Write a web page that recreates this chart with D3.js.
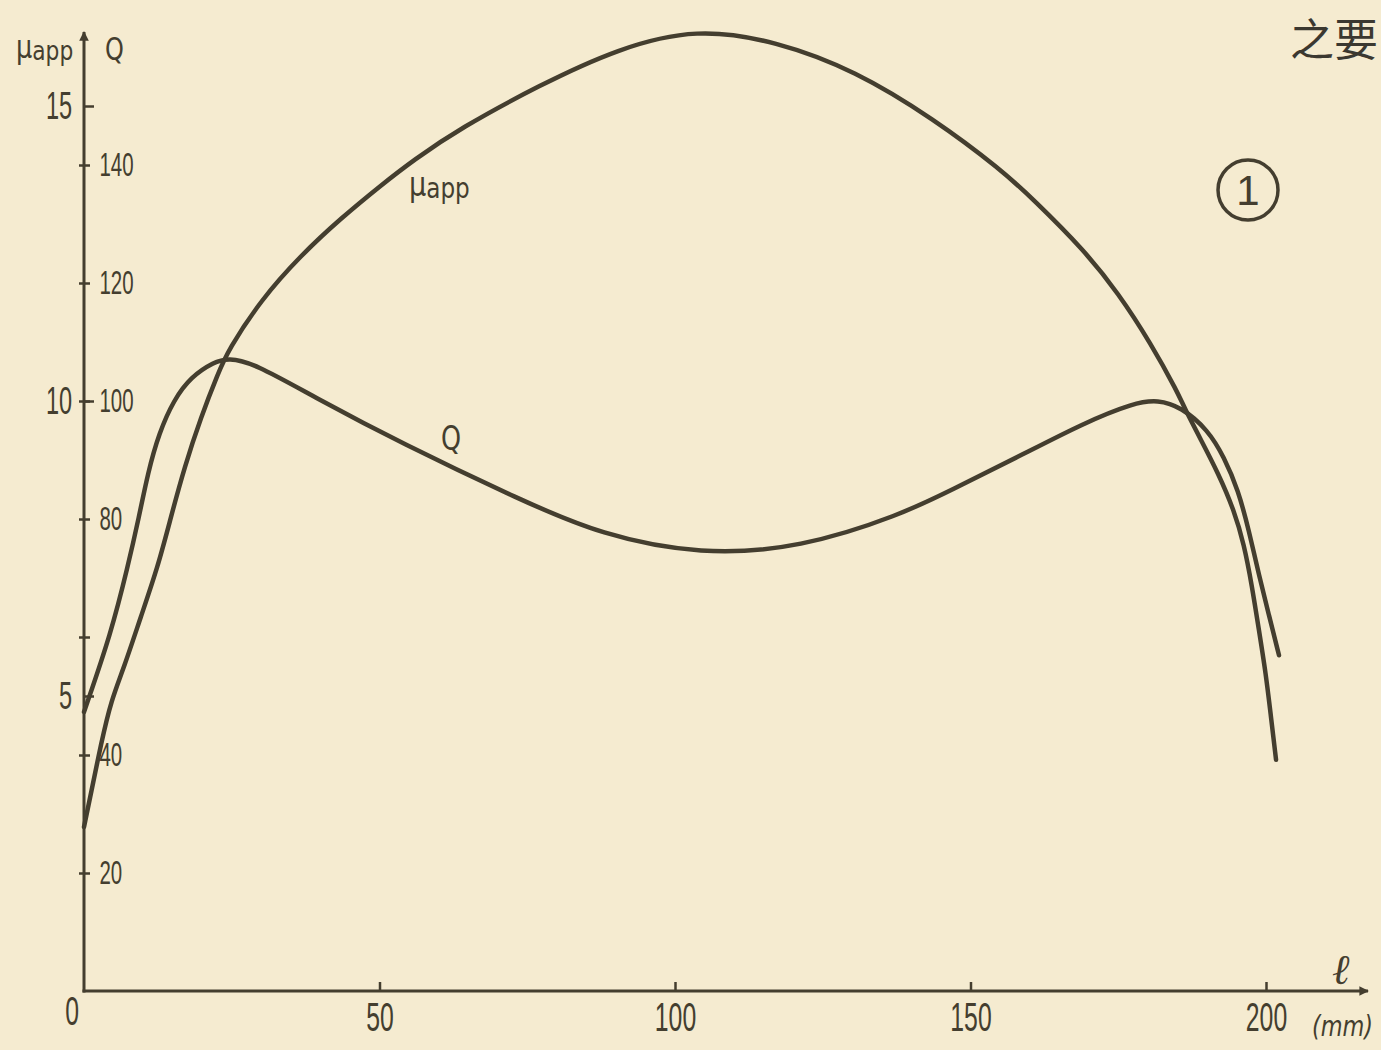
<!DOCTYPE html>
<html>
<head>
<meta charset="utf-8">
<script src="https://cdn.jsdelivr.net/npm/d3@7"></script>
<style>
  html, body { margin: 0; padding: 0; background: #f5ebd0; }
  svg { display: block; }
</style>
</head>
<body>
<svg id="chart" width="1381" height="1050"></svg>
<script>
// Apparent viscosity (μapp) and Q along the length ℓ (mm)
const lengthMu = [0, 1.2, 2.9, 4.6, 6.8, 9.6, 12.5, 14.7, 17.0, 19.8, 22.7, 24.4, 29.9, 36.7, 43.5, 50.3, 55.7, 63.6, 77.0, 90.4, 103.7, 117.1, 130.5, 143.8, 155.2, 160.7, 169.2, 175.0, 180.5, 185.1, 186.1, 189.0, 191.9, 194.6, 196.3, 197.6, 198.8, 200.0, 200.8, 201.7];
const muApp = [2.78, 3.36, 4.20, 4.93, 5.49, 6.34, 7.19, 8.03, 8.88, 9.73, 10.47, 10.86, 11.71, 12.47, 13.10, 13.66, 14.08, 14.62, 15.35, 15.98, 16.32, 16.10, 15.60, 14.78, 13.92, 13.41, 12.56, 11.83, 10.98, 10.14, 9.90, 9.34, 8.78, 8.15, 7.56, 6.88, 6.12, 5.36, 4.68, 3.92];

const lengthQ = [0, 4.6, 7.4, 9.3, 10.8, 12.7, 15.2, 18.1, 22.0, 24.4, 28.8, 38.9, 53.6, 73.9, 87.5, 104.4, 121.3, 138.2, 146.7, 158.0, 169.2, 177.7, 181.7, 185.6, 190.2, 192.9, 195.3, 197.1, 198.8, 200.5, 202.2];
const flowQ = [47.3, 60.7, 71.9, 80.3, 87.8, 94.6, 100.2, 104.1, 106.6, 107.3, 106.4, 100.7, 92.9, 83.2, 77.3, 73.9, 75.1, 80.7, 84.9, 90.5, 96.3, 99.7, 100.2, 99.0, 95.1, 90.5, 84.9, 78.1, 70.5, 63.7, 56.9];

const xTicks = [0, 50, 100, 150, 200];
const xTickLabels = ["0", "50", "100", "150", "200"];
const muTicks = [5, 10, 15];
const muTickLabels = ["5", "10", "15"];
const qTicks = [20, 40, 60, 80, 100, 120, 140];
const qTickLabels = ["20", "40", "", "80", "100", "120", "140"];

const W = 1381, H = 1050;
const ink = "#443e2f";
const numFont = "'Liberation Sans', 'DejaVu Sans', sans-serif";
const svg = d3.select("#chart");

svg.append("rect").attr("width", W).attr("height", H).attr("fill", "#f5ebd0");

const x = d3.scaleLinear().domain([0, 200]).range([84, 1266]);
const yMu = d3.scaleLinear().domain([0, 16]).range([991, 47]);
const yQ = d3.scaleLinear().domain([0, 160]).range([991, 47]);
const x0 = x(0), y0 = yMu(0);

// arrow heads for the two axes
const defs = svg.append("defs");
defs.append("marker")
  .attr("id", "arrow")
  .attr("viewBox", "0 0 10 10")
  .attr("refX", 9).attr("refY", 5)
  .attr("markerWidth", 7).attr("markerHeight", 3.2)
  .attr("markerUnits", "strokeWidth")
  .attr("orient", "auto")
  .append("path").attr("d", "M0,0L10,5L0,10Z").attr("fill", ink);

// condensed numerals
function narrow(sel, sx) {
  sel.attr("transform", `scale(${sx},1)`);
}

// x axis
const gx = svg.append("g").attr("transform", `translate(0,${y0})`)
  .call(d3.axisBottom(x).tickValues(xTicks)
    .tickFormat((d, i) => xTickLabels[i])
    .tickSizeInner(-9).tickSizeOuter(0).tickPadding(12));
gx.select(".domain").remove();
gx.selectAll(".tick line").attr("stroke", ink).attr("stroke-width", 2.5)
  .filter(d => d === 0).remove();
gx.selectAll(".tick text")
  .attr("fill", ink).attr("font-family", numFont).attr("font-size", 40)
  .call(narrow, 0.62);
gx.selectAll(".tick").filter(d => d === 0).select("text")
  .attr("x", -20).attr("y", 6);

// left axis: μapp
const gMu = svg.append("g").attr("transform", `translate(${x0},0)`)
  .call(d3.axisLeft(yMu).tickValues(muTicks)
    .tickFormat((d, i) => muTickLabels[i])
    .tickSizeInner(-10).tickSizeOuter(0).tickPadding(19));
gMu.select(".domain").remove();
gMu.selectAll(".tick line").attr("stroke", ink).attr("stroke-width", 2.5);
gMu.selectAll(".tick text")
  .attr("fill", ink).attr("font-family", numFont).attr("font-size", 38)
  .call(narrow, 0.62);

// right-hand numbering on the same axis: Q
const gQ = svg.append("g").attr("transform", `translate(${x0},0)`)
  .call(d3.axisRight(yQ).tickValues(qTicks)
    .tickFormat((d, i) => qTickLabels[i])
    .tickSizeInner(6).tickSizeOuter(0).tickPadding(19));
gQ.select(".domain").remove();
gQ.selectAll(".tick line").attr("x1", -5).attr("stroke", ink).attr("stroke-width", 2.5);
gQ.selectAll(".tick text")
  .attr("fill", ink).attr("font-family", numFont).attr("font-size", 33)
  .call(narrow, 0.62);

// axis lines with arrows
svg.append("line")
  .attr("x1", x0).attr("y1", y0 + 1.5).attr("x2", x0).attr("y2", 32)
  .attr("stroke", ink).attr("stroke-width", 3)
  .attr("marker-end", "url(#arrow)");
svg.append("line")
  .attr("x1", x0 - 1.5).attr("y1", y0).attr("x2", 1368).attr("y2", y0)
  .attr("stroke", ink).attr("stroke-width", 3)
  .attr("marker-end", "url(#arrow)");

// curves
const lineMu = d3.line().x(d => x(d[0])).y(d => yMu(d[1])).curve(d3.curveBasis);
const lineQ = d3.line().x(d => x(d[0])).y(d => yQ(d[1])).curve(d3.curveBasis);

svg.append("path").datum(d3.zip(lengthMu, muApp))
  .attr("d", lineMu).attr("fill", "none")
  .attr("stroke", ink).attr("stroke-width", 4.5)
  .attr("stroke-linecap", "round").attr("stroke-linejoin", "round");
svg.append("path").datum(d3.zip(lengthQ, flowQ))
  .attr("d", lineQ).attr("fill", "none")
  .attr("stroke", ink).attr("stroke-width", 4.5)
  .attr("stroke-linecap", "round").attr("stroke-linejoin", "round");

// labels
const labelFont = "'DejaVu Sans', 'Liberation Sans', sans-serif";
function muLabel(px, py, size, sx) {
  const t = svg.append("text").attr("transform", `translate(${px},${py}) scale(${sx},1)`)
    .attr("fill", ink).attr("font-family", labelFont).attr("font-size", size);
  t.append("tspan").text("μ");
  t.append("tspan").attr("font-size", size * 0.85).attr("dy", 2).text("app");
}
muLabel(16, 58, 32, 0.8);
svg.append("text").attr("transform", `translate(105,60) scale(0.75,1)`)
  .attr("fill", ink).attr("font-family", labelFont).attr("font-size", 32).text("Q");

muLabel(409, 196, 34, 0.8);
svg.append("text").attr("transform", `translate(441,450) scale(0.75,1)`)
  .attr("fill", ink).attr("font-family", labelFont).attr("font-size", 34).text("Q");

svg.append("text").attr("x", 1332).attr("y", 984)
  .attr("fill", ink).attr("font-family", "'DejaVu Serif', serif")
  .attr("font-style", "italic").attr("font-size", 42).text("ℓ");
svg.append("text").attr("transform", `translate(1312,1036) scale(0.8,1)`)
  .attr("fill", ink).attr("font-family", labelFont)
  .attr("font-style", "italic").attr("font-size", 28).text("(mm)");

// figure number
svg.append("circle").attr("cx", 1248).attr("cy", 190).attr("r", 30)
  .attr("fill", "none").attr("stroke", ink).attr("stroke-width", 3.5);
svg.append("text").attr("x", 1248).attr("y", 205).attr("text-anchor", "middle")
  .attr("fill", ink).attr("font-family", numFont).attr("font-size", 42)
  .text("1");

// running text at the page edge
svg.append("text").attr("x", 1290).attr("y", 56)
  .attr("fill", "#3b3830").attr("font-family", "'Noto Sans CJK SC', sans-serif")
  .attr("font-size", 44).text("之要");
</script>
</body>
</html>
